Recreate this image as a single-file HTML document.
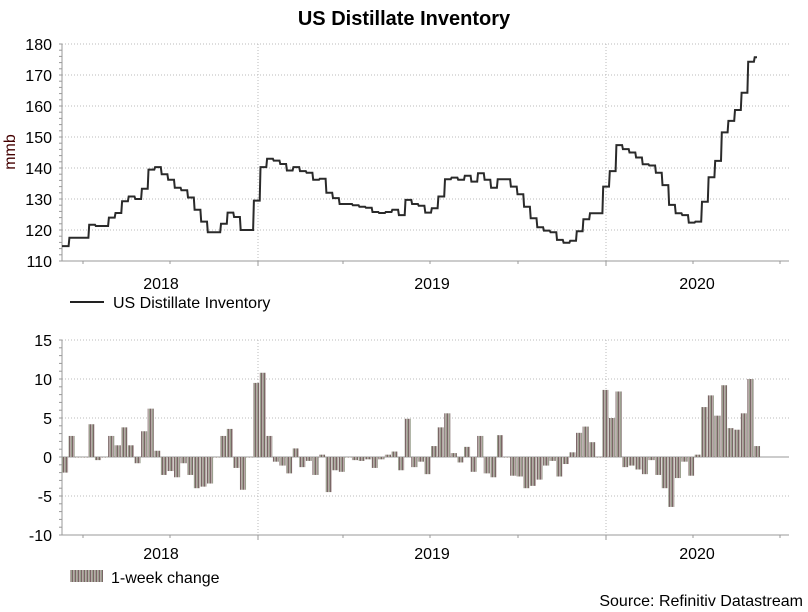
<!DOCTYPE html>
<html><head><meta charset="utf-8"><style>
body{margin:0;background:#fff;width:808px;height:612px;overflow:hidden;font-family:"Liberation Sans",sans-serif}
svg{display:block}
</style></head><body>
<svg id="c" width="808" height="612" font-family="Liberation Sans, sans-serif">
<defs><pattern id="hatch" width="3" height="4" patternUnits="userSpaceOnUse"><rect width="3" height="4" fill="#b8a8a8"/><rect width="1" height="4" fill="#7a6666"/><rect x="2" width="1" height="4" fill="#9aa08e"/></pattern></defs>
<text x="404" y="25" text-anchor="middle" font-size="20" font-weight="bold" fill="#000">US Distillate Inventory</text>
<g id="top"></g><g id="bot"></g>
<text transform="translate(15,152) rotate(-90)" text-anchor="middle" font-size="16" fill="#400">mmb</text>
<line x1="70" y1="302" x2="104" y2="302" stroke="#222" stroke-width="2"/>
<text x="113" y="308" font-size="16">US Distillate Inventory</text>
<rect x="70" y="570" width="33" height="12" fill="url(#hatch)"/>
<text x="111" y="583" font-size="16">1-week change</text>
<text x="803" y="606" text-anchor="end" font-size="16">Source: Refinitiv Datastream</text>
</svg>
<script>
const levels=[114.8,117.5,117.5,117.5,121.7,121.3,121.3,124,125.5,129.3,130.8,130,133.3,139.5,140.3,138,136.2,133.6,132.8,130.5,126.5,122.7,119.3,119.3,122,125.6,124.2,120,120,129.5,140.3,143,142.4,141.3,139.2,140.3,139,138.5,136.2,136.5,132,130.3,128.4,128.4,128,127.5,127.2,125.8,125.5,125.8,126.5,124.8,129.7,128.4,127.8,125.6,127,130.8,136.4,136.9,136.2,137.5,135.6,138.3,136.2,133.6,136.4,136.4,134,131.5,127.5,123.8,120.9,119.8,119.3,116.8,115.9,116.5,119.6,123.5,125.4,125.4,134,139,147.4,146.1,145,143.4,141.2,140.8,138.5,134.5,128.1,125.4,124.8,122.4,122.7,129.1,137,142.3,151.5,155.2,158.7,164.3,174.3,175.7];
const changes=[-2.0,2.7,0,0,4.2,-0.4,0,2.7,1.5,3.8,1.5,-0.8,3.3,6.2,0.8,-2.3,-1.8,-2.6,-0.8,-2.3,-4.0,-3.8,-3.4,0,2.7,3.6,-1.4,-4.2,0,9.5,10.8,2.7,-0.6,-1.1,-2.1,1.1,-1.3,-0.5,-2.3,0.3,-4.5,-1.7,-1.9,0,-0.4,-0.5,-0.3,-1.4,-0.3,0.3,0.7,-1.7,4.9,-1.3,-0.6,-2.2,1.4,3.8,5.6,0.5,-0.7,1.3,-1.9,2.7,-2.1,-2.6,2.8,0,-2.4,-2.5,-4.0,-3.7,-2.9,-1.1,-0.5,-2.5,-0.9,0.6,3.1,3.9,1.9,0,8.6,5.0,8.4,-1.3,-1.1,-1.6,-2.2,-0.4,-2.3,-4.0,-6.4,-2.7,-0.6,-2.4,0.3,6.4,7.9,5.3,9.2,3.7,3.5,5.6,10.0,1.4];
const topTicks=[110,120,130,140,150,160,170,180];
const botTicks=[-10,-5,0,5,10,15];
const yearLabels=["2018","2019","2020"];
const yearPos=[161,432,697];
const NS="http://www.w3.org/2000/svg";
const X0=62,X1=789,STEP=6.59;
function mk(p,t,a){const e=document.createElementNS(NS,t);for(const k in a)e.setAttribute(k,a[k]);p.appendChild(e);return e;}
const xw=i=>X0+i*STEP;
const yT=v=>44+(180-v)*(217/70);
const yB=v=>340+(15-v)*(195/25);
function axes(g,yf,ticks,lo,hi,minor,bottomY,labY,prefix){
  ticks.forEach(v=>{
    if(v!==lo&&v!==0){const l=mk(g,'line',{x1:X0,x2:X1,y1:yf(v),y2:yf(v),stroke:'#bbb','stroke-dasharray':'1,2'});}
    const t=mk(g,'text',{x:52,y:yf(v)+6,'text-anchor':'end','font-size':16});t.textContent=v;
    
  });
  for(let v=lo;v<=hi;v+=minor){mk(g,'line',{x1:X0-3,x2:X0,y1:yf(v),y2:yf(v),stroke:'#999'});}
  [258,606].forEach(x=>{const l=mk(g,'line',{x1:x,x2:x,y1:yf(hi),y2:bottomY,stroke:'#bbb','stroke-dasharray':'1,2'});});
  [83,170,258,343,430,518,606,693,780].forEach(x=>mk(g,'line',{x1:x,x2:x,y1:bottomY,y2:bottomY+((x==258||x==606)?5:3),stroke:'#999'}));
  const ya=mk(g,'line',{x1:X0,x2:X0,y1:yf(hi),y2:bottomY,stroke:'#999'});
  const xa=mk(g,'line',{x1:X0,x2:X1,y1:bottomY,y2:bottomY,stroke:'#999'});
  yearLabels.forEach((s,i)=>{const t=mk(g,'text',{x:yearPos[i],y:labY,'text-anchor':'middle','font-size':16});t.textContent=s;});
}
const gt=document.getElementById('top'),gb=document.getElementById('bot');
axes(gt,yT,topTicks,110,180,2,261,289,'top-');
axes(gb,yB,botTicks,-10,15,1,535,559,'bottom-');
let d='';
levels.forEach((v,i)=>{const y=yT(v).toFixed(1);d+=(i?'L':'M')+(xw(i)+(i?0.8:0)).toFixed(1)+' '+y+'L'+Math.min(xw(i+1),757).toFixed(1)+' '+y;});
const p=mk(gt,'path',{d:d,fill:'none',stroke:'#2a2a2a','stroke-width':2});


const z=mk(gb,'line',{x1:X0,x2:X1,y1:yB(0),y2:yB(0),stroke:'#999'});


changes.forEach((v,i)=>{
  const y0=yB(0),y=yB(v);
  const r=mk(gb,'rect',{x:xw(i),y:Math.min(y,y0),width:STEP-0.5,height:Math.max(Math.abs(y-y0),0.5),fill:'url(#hatch)'});
  
  
});
</script>
</body></html>
